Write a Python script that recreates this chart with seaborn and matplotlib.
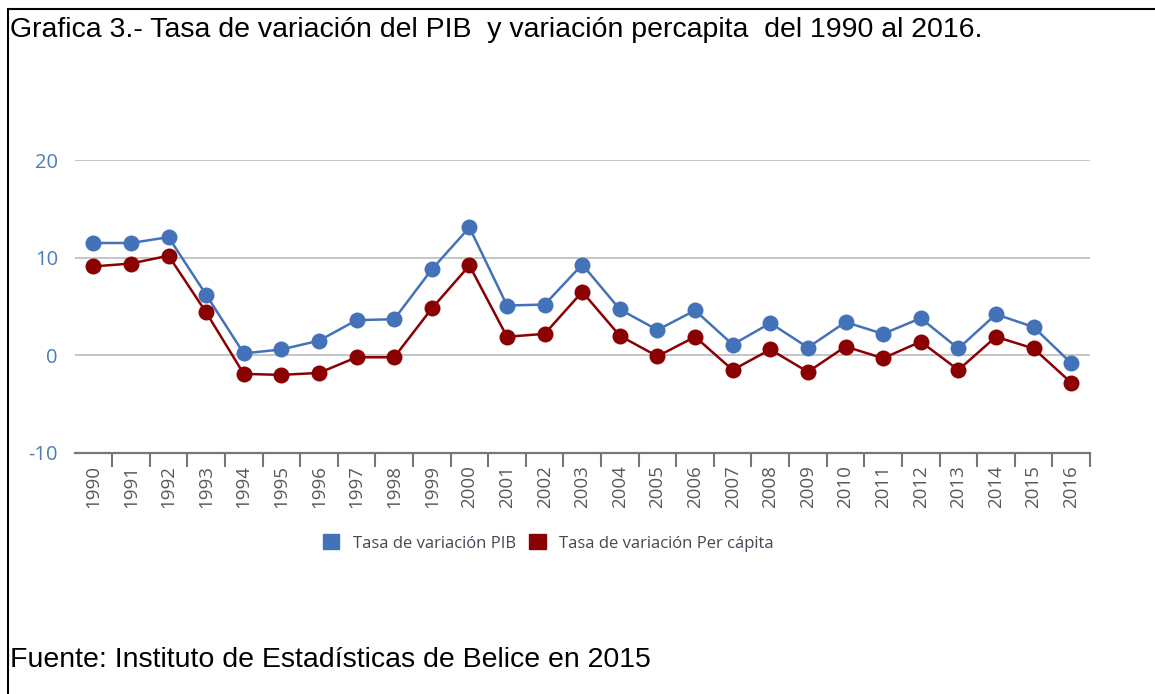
import matplotlib
matplotlib.use("Agg")
import matplotlib.pyplot as plt
from matplotlib.lines import Line2D
from matplotlib.patches import Patch
import seaborn as sns
import pandas as pd

# Data
years = [str(y) for y in range(1990, 2017)]
pib = [11.5, 11.5, 12.1, 6.2, 0.2, 0.6, 1.5, 3.6, 3.7, 8.8, 13.1, 5.1, 5.2, 9.3,
       4.7, 2.6, 4.6, 1.1, 3.3, 0.8, 3.4, 2.2, 3.8, 0.7, 4.2, 2.9, -0.8]
per_capita = [9.1, 9.4, 10.2, 4.4, -1.9, -2.0, -1.8, -0.2, -0.2, 4.8, 9.2, 1.9, 2.2, 6.5,
              2.0, -0.1, 1.9, -1.5, 0.6, -1.7, 0.9, -0.3, 1.4, -1.5, 1.9, 0.7, -2.8]
series_names = ["Tasa de variación PIB", "Tasa de variación Per cápita"]
y_ticks = [-10, 0, 10, 20]

title = "Grafica 3.- Tasa de variación del PIB  y variación percapita  del 1990 al 2016."
source = "Fuente: Instituto de Estadísticas de Belice en 2015"

blue = "#4472b8"
red = "#8b0000"

df = pd.DataFrame({
    "Año": years * 2,
    "Valor": pib + per_capita,
    "Serie": [series_names[0]] * len(years) + [series_names[1]] * len(years),
})

sns.set_theme(style="white")
plt.rcParams["font.family"] = ["Open Sans", "DejaVu Sans"]
plt.rcParams["axes.unicode_minus"] = False

fig = plt.figure(figsize=(11.55, 6.94), dpi=100)
ax = fig.add_axes([74.5 / 1155, 1 - 453 / 694, (1090 - 74.5) / 1155, (453 - 160) / 694])

sns.lineplot(
    data=df, x="Año", y="Valor", hue="Serie",
    palette=[blue, red], marker="o", markersize=11.5, markeredgewidth=0,
    linewidth=1.8, sort=False, legend=False, ax=ax,
)

ax.set_xlim(-0.5, len(years) - 0.5)
ax.set_ylim(-10, 20)
ax.set_yticks(y_ticks)
for v in [0, 10, 20]:
    ax.axhline(v, color="#c0c0c0", linewidth=1.3, zorder=0)

for s in ["top", "right", "left"]:
    ax.spines[s].set_visible(False)
ax.spines["bottom"].set_color("#777777")
ax.spines["bottom"].set_linewidth(1.6)

# ticks between categories, labels at category centres
ax.set_xticks(range(len(years)))
ax.set_xticklabels(years, rotation=90, fontsize=13.5, color="#595959")
ax.tick_params(axis="x", length=0, pad=9)
ax.set_xticks([i + 0.5 for i in range(len(years))], minor=True)
ax.tick_params(axis="x", which="minor", length=10, width=1.5, color="#777777", bottom=True)
ax.tick_params(axis="y", length=0, pad=12, labelsize=14.5, labelcolor="#4a7ebb")
ax.set_xlabel("")
ax.set_ylabel("")

handles = [Patch(facecolor=blue, edgecolor=blue), Patch(facecolor=red, edgecolor=red)]
fig.legend(handles, series_names, loc="center", bbox_to_anchor=(548 / 1155, 1 - 543 / 694),
           ncol=2, frameon=False, fontsize=12, labelcolor="#404a55",
           handlelength=1.0, handleheight=1.0, handletextpad=0.8, columnspacing=0.8)

# page-style frame and texts
fig.text(10 / 1155, 1 - 30 / 694, title, fontsize=20.5, family=["Liberation Sans", "DejaVu Sans"],
         va="center", ha="left", color="black")
fig.text(10 / 1155, 1 - 660 / 694, source, fontsize=20.5, family=["Liberation Sans", "DejaVu Sans"],
         va="center", ha="left", color="black")
fig.add_artist(Line2D([8 / 1155, 1], [1 - 9 / 694] * 2, color="black", linewidth=1.5))
fig.add_artist(Line2D([8 / 1155] * 2, [0, 1 - 9 / 694], color="black", linewidth=1.5))

fig.savefig("out.png", dpi=100)
